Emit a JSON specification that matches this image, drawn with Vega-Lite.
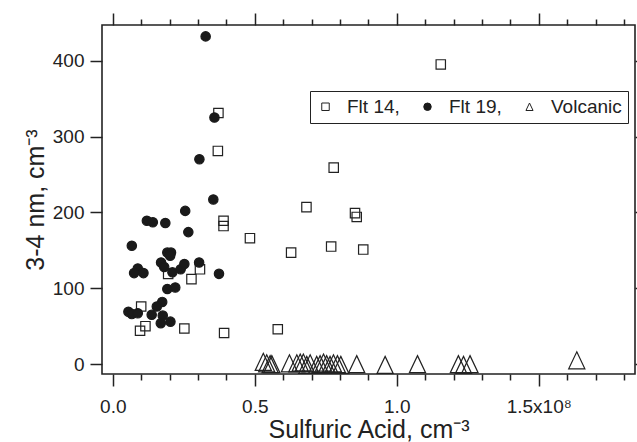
{
  "$schema": "https://vega.github.io/schema/vega-lite/v6.json",
  "width": 533,
  "height": 349,
  "autosize": {"type": "none"},
  "padding": {"left": 102, "top": 25, "right": 2, "bottom": 68},
  "background": "white",
  "config": {
    "view": {"stroke": "#222", "strokeWidth": 1.6},
    "font": "Liberation Sans",
    "axis": {"grid": false, "domain": false, "tickColor": "#222", "tickWidth": 1.5, "labelColor": "#222", "titleColor": "#222", "labelFont": "Liberation Sans", "titleFont": "Liberation Sans", "labelFontSize": 19, "titleFontSize": 25, "titleFontWeight": "normal"},
    "legend": {"labelFontSize": 19, "labelFont": "Liberation Sans", "labelColor": "#222", "symbolSize": 56, "symbolStrokeWidth": 1, "strokeColor": "#222", "fillColor": "white", "padding": 6, "columnPadding": 18, "labelOffset": 12}
  },
  "datasets": {
    "pts": [
      {"series": "Flt 14,", "acid": 37200000, "n34": 331},
      {"series": "Flt 14,", "acid": 37000000, "n34": 281},
      {"series": "Flt 14,", "acid": 77800000, "n34": 259},
      {"series": "Flt 14,", "acid": 68200000, "n34": 207},
      {"series": "Flt 14,", "acid": 85300000, "n34": 199},
      {"series": "Flt 14,", "acid": 85900000, "n34": 194},
      {"series": "Flt 14,", "acid": 39000000, "n34": 189},
      {"series": "Flt 14,", "acid": 39000000, "n34": 182},
      {"series": "Flt 14,", "acid": 48300000, "n34": 166},
      {"series": "Flt 14,", "acid": 62800000, "n34": 147},
      {"series": "Flt 14,", "acid": 76900000, "n34": 155},
      {"series": "Flt 14,", "acid": 88200000, "n34": 151},
      {"series": "Flt 14,", "acid": 19500000, "n34": 119},
      {"series": "Flt 14,", "acid": 30700000, "n34": 125},
      {"series": "Flt 14,", "acid": 27700000, "n34": 112},
      {"series": "Flt 14,", "acid": 10000000, "n34": 76},
      {"series": "Flt 14,", "acid": 11500000, "n34": 50},
      {"series": "Flt 14,", "acid": 9600000, "n34": 44},
      {"series": "Flt 14,", "acid": 25200000, "n34": 47},
      {"series": "Flt 14,", "acid": 39200000, "n34": 41},
      {"series": "Flt 14,", "acid": 58100000, "n34": 46},
      {"series": "Flt 14,", "acid": 115500000, "n34": 395},
      {"series": "Flt 19,", "acid": 32700000, "n34": 432},
      {"series": "Flt 19,", "acid": 35800000, "n34": 325},
      {"series": "Flt 19,", "acid": 30500000, "n34": 270},
      {"series": "Flt 19,", "acid": 35400000, "n34": 217},
      {"series": "Flt 19,", "acid": 25500000, "n34": 202},
      {"series": "Flt 19,", "acid": 12000000, "n34": 189},
      {"series": "Flt 19,", "acid": 14100000, "n34": 187},
      {"series": "Flt 19,", "acid": 18500000, "n34": 186},
      {"series": "Flt 19,", "acid": 26600000, "n34": 174},
      {"series": "Flt 19,", "acid": 6700000, "n34": 156},
      {"series": "Flt 19,", "acid": 19200000, "n34": 147},
      {"series": "Flt 19,", "acid": 20500000, "n34": 147},
      {"series": "Flt 19,", "acid": 20200000, "n34": 143},
      {"series": "Flt 19,", "acid": 17000000, "n34": 134},
      {"series": "Flt 19,", "acid": 18100000, "n34": 128},
      {"series": "Flt 19,", "acid": 8800000, "n34": 126},
      {"series": "Flt 19,", "acid": 7500000, "n34": 120},
      {"series": "Flt 19,", "acid": 10800000, "n34": 120},
      {"series": "Flt 19,", "acid": 21000000, "n34": 121},
      {"series": "Flt 19,", "acid": 23900000, "n34": 125},
      {"series": "Flt 19,", "acid": 25200000, "n34": 132},
      {"series": "Flt 19,", "acid": 30400000, "n34": 134},
      {"series": "Flt 19,", "acid": 37400000, "n34": 119},
      {"series": "Flt 19,", "acid": 19200000, "n34": 99},
      {"series": "Flt 19,", "acid": 22000000, "n34": 101},
      {"series": "Flt 19,", "acid": 17400000, "n34": 82},
      {"series": "Flt 19,", "acid": 15500000, "n34": 76},
      {"series": "Flt 19,", "acid": 5500000, "n34": 69},
      {"series": "Flt 19,", "acid": 6700000, "n34": 66},
      {"series": "Flt 19,", "acid": 8800000, "n34": 67},
      {"series": "Flt 19,", "acid": 13700000, "n34": 65},
      {"series": "Flt 19,", "acid": 17600000, "n34": 64},
      {"series": "Flt 19,", "acid": 16900000, "n34": 54},
      {"series": "Flt 19,", "acid": 20300000, "n34": 56},
      {"series": "Volcanic", "acid": 53000000, "n34": 3},
      {"series": "Volcanic", "acid": 54200000, "n34": 1},
      {"series": "Volcanic", "acid": 55400000, "n34": 0},
      {"series": "Volcanic", "acid": 56000000, "n34": 0},
      {"series": "Volcanic", "acid": 62200000, "n34": 1},
      {"series": "Volcanic", "acid": 64800000, "n34": 1},
      {"series": "Volcanic", "acid": 66000000, "n34": 2},
      {"series": "Volcanic", "acid": 67100000, "n34": 2},
      {"series": "Volcanic", "acid": 68300000, "n34": -1},
      {"series": "Volcanic", "acid": 69500000, "n34": 1},
      {"series": "Volcanic", "acid": 71800000, "n34": -1},
      {"series": "Volcanic", "acid": 73000000, "n34": 0},
      {"series": "Volcanic", "acid": 74200000, "n34": 2},
      {"series": "Volcanic", "acid": 75300000, "n34": 0},
      {"series": "Volcanic", "acid": 76500000, "n34": -1},
      {"series": "Volcanic", "acid": 77700000, "n34": 1},
      {"series": "Volcanic", "acid": 79100000, "n34": 0},
      {"series": "Volcanic", "acid": 80300000, "n34": -1},
      {"series": "Volcanic", "acid": 85900000, "n34": 0},
      {"series": "Volcanic", "acid": 95900000, "n34": -1},
      {"series": "Volcanic", "acid": 107300000, "n34": 0},
      {"series": "Volcanic", "acid": 121700000, "n34": 0},
      {"series": "Volcanic", "acid": 123500000, "n34": -1},
      {"series": "Volcanic", "acid": 125800000, "n34": 0},
      {"series": "Volcanic", "acid": 163400000, "n34": 5}
    ]
  },
  "data": {"name": "pts"},
  "layer": [
    {
      "mark": {"type": "point", "opacity": 1, "strokeWidth": 1.2},
      "encoding": {
        "x": {"field": "acid", "type": "quantitative", "scale": {"domain": [-3800000, 183900000], "nice": false, "zero": false},
              "axis": {"orient": "bottom", "values": [0, 50000000, 100000000, 150000000], "tickSize": 12, "labelPadding": 11,
                       "labelExpr": "datum.value == 0 ? '0.0' : datum.value == 50000000 ? '0.5' : datum.value == 100000000 ? '1.0' : '1.5x10⁸'",
                       "title": "Sulfuric Acid, cm⁻³", "titleBaseline": "alphabetic", "titleY": 63}},
        "y": {"field": "n34", "type": "quantitative", "scale": {"domain": [-13, 447], "nice": false, "zero": false},
              "axis": {"orient": "left", "values": [0, 100, 200, 300, 400], "tickSize": 12, "labelPadding": 6,
                       "title": "3-4 nm, cm⁻³", "titleBaseline": "alphabetic", "titleX": -59}},
        "shape": {"field": "series", "type": "nominal",
                  "scale": {"domain": ["Flt 14,", "Flt 19,", "Volcanic"], "range": ["square", "circle", "M0,-1L0.95,1L-0.95,1Z"]},
                  "legend": {"title": null, "orient": "none", "legendX": 208, "legendY": 66, "direction": "horizontal"}},
        "fill": {"field": "series", "type": "nominal",
                 "scale": {"domain": ["Flt 14,", "Flt 19,", "Volcanic"], "range": ["transparent", "#1a1a1a", "transparent"]},
                 "legend": {"title": null, "orient": "none", "legendX": 208, "legendY": 66, "direction": "horizontal"}},
        "stroke": {"field": "series", "type": "nominal",
                   "scale": {"domain": ["Flt 14,", "Flt 19,", "Volcanic"], "range": ["#222222", "#1a1a1a", "#222222"]},
                   "legend": {"title": null, "orient": "none", "legendX": 208, "legendY": 66, "direction": "horizontal"}},
        "size": {"condition": {"test": "datum.series === 'Volcanic'", "value": 290}, "value": 88}
      }
    },
    {
      "mark": {"type": "point", "opacity": 0},
      "encoding": {
        "x": {"field": "acid", "type": "quantitative", "scale": {"domain": [-3800000, 183900000], "nice": false, "zero": false},
              "axis": {"orient": "bottom", "values": [10000000, 20000000, 30000000, 40000000, 60000000, 70000000, 80000000, 90000000, 110000000, 120000000, 130000000, 140000000, 160000000, 170000000, 180000000], "tickSize": 6, "labels": false, "title": null}},
        "y": {"field": "n34", "type": "quantitative", "scale": {"domain": [-13, 447], "nice": false, "zero": false},
              "axis": {"orient": "right", "values": [0, 100, 200, 300, 400], "tickSize": 12, "labels": false, "title": null}}
      }
    },
    {
      "mark": {"type": "point", "opacity": 0},
      "encoding": {
        "x": {"field": "acid", "type": "quantitative", "scale": {"domain": [-3800000, 183900000], "nice": false, "zero": false},
              "axis": {"orient": "top", "values": [0, 50000000, 100000000, 150000000], "tickSize": 12, "labels": false, "title": null}}
      }
    },
    {
      "mark": {"type": "point", "opacity": 0},
      "encoding": {
        "x": {"field": "acid", "type": "quantitative", "scale": {"domain": [-3800000, 183900000], "nice": false, "zero": false},
              "axis": {"orient": "top", "values": [10000000, 20000000, 30000000, 40000000, 60000000, 70000000, 80000000, 90000000, 110000000, 120000000, 130000000, 140000000, 160000000, 170000000, 180000000], "tickSize": 6, "labels": false, "title": null}}
      }
    }
  ],
  "resolve": {"axis": {"x": "independent", "y": "independent"}}
}
